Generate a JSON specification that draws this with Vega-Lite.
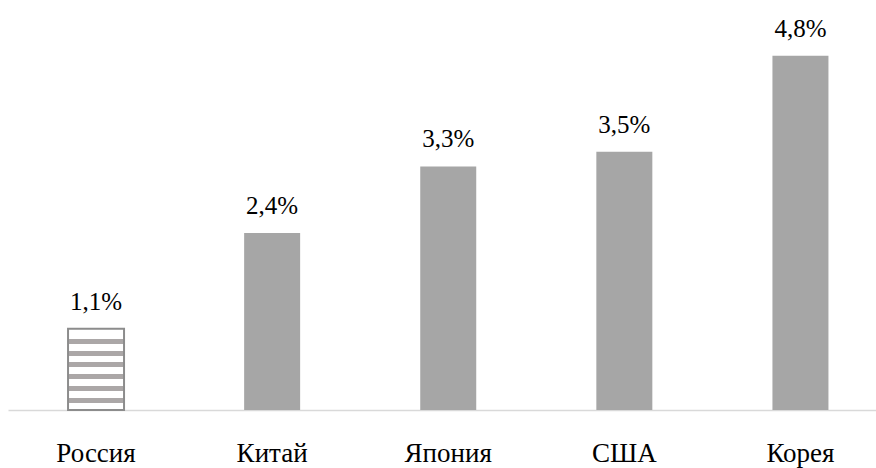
{
  "$schema": "https://vega.github.io/schema/vega-lite/v6.json",
  "autosize": "none",
  "width": 868,
  "height": 410,
  "padding": {"left": 8, "top": 0, "right": 0, "bottom": 58},
  "background": "white",
  "config": {
    "view": {"stroke": null},
    "font": "Liberation Serif",
    "mark": {"font": "Liberation Serif"},
    "text": {"font": "Liberation Serif"}
  },
  "data": {
    "values": [
      {"country": "Россия", "value": 1.1, "label": "1,1%", "russia": true},
      {"country": "Китай", "value": 2.4, "label": "2,4%", "russia": false},
      {"country": "Япония", "value": 3.3, "label": "3,3%", "russia": false},
      {"country": "США", "value": 3.5, "label": "3,5%", "russia": false},
      {"country": "Корея", "value": 4.8, "label": "4,8%", "russia": false}
    ]
  },
  "encoding": {
    "x": {
      "field": "country",
      "type": "nominal",
      "sort": ["Россия", "Китай", "Япония", "США", "Корея"],
      "scale": {"paddingInner": 0.682, "paddingOuter": 0.3055, "align": 0.558},
      "axis": {
        "title": null,
        "labelAngle": 0,
        "ticks": false,
        "labelFont": "Liberation Serif",
        "labelFontSize": 27,
        "labelColor": "#000000",
        "labelBaseline": "alphabetic",
        "labelPadding": 51,
        "domainColor": "#d9d9d9",
        "domainWidth": 1.3,
        "grid": false
      }
    },
    "y": {
      "field": "value",
      "type": "quantitative",
      "scale": {"domain": [0, 5.556], "nice": false},
      "axis": null
    }
  },
  "layer": [
    {
      "transform": [{"filter": "!datum.russia"}],
      "mark": {"type": "bar", "color": "#a6a6a6"}
    },
    {
      "transform": [{"filter": "datum.russia"}],
      "mark": {
        "type": "bar",
        "stroke": "#8c8c8c",
        "strokeWidth": 2,
        "fill": {
          "gradient": "linear",
          "x1": 0, "y1": 0, "x2": 0, "y2": 1,
          "stops": [
            {"offset": 0, "color": "#ffffff"},
            {"offset": 0.124, "color": "#ffffff"},
            {"offset": 0.124, "color": "#aba7a7"},
            {"offset": 0.186, "color": "#aba7a7"},
            {"offset": 0.186, "color": "#ffffff"},
            {"offset": 0.2686, "color": "#ffffff"},
            {"offset": 0.2686, "color": "#aba7a7"},
            {"offset": 0.3306, "color": "#aba7a7"},
            {"offset": 0.3306, "color": "#ffffff"},
            {"offset": 0.4132, "color": "#ffffff"},
            {"offset": 0.4132, "color": "#aba7a7"},
            {"offset": 0.4752, "color": "#aba7a7"},
            {"offset": 0.4752, "color": "#ffffff"},
            {"offset": 0.5578, "color": "#ffffff"},
            {"offset": 0.5578, "color": "#aba7a7"},
            {"offset": 0.6198, "color": "#aba7a7"},
            {"offset": 0.6198, "color": "#ffffff"},
            {"offset": 0.7024, "color": "#ffffff"},
            {"offset": 0.7024, "color": "#aba7a7"},
            {"offset": 0.7644, "color": "#aba7a7"},
            {"offset": 0.7644, "color": "#ffffff"},
            {"offset": 0.847, "color": "#ffffff"},
            {"offset": 0.847, "color": "#aba7a7"},
            {"offset": 0.909, "color": "#aba7a7"},
            {"offset": 0.909, "color": "#ffffff"},
            {"offset": 1, "color": "#ffffff"}
          ]
        }
      }
    },
    {
      "mark": {"type": "text", "baseline": "alphabetic", "dy": -19, "fontSize": 25, "color": "#000000", "font": "Times New Roman"},
      "encoding": {"text": {"field": "label"}}
    }
  ]
}
